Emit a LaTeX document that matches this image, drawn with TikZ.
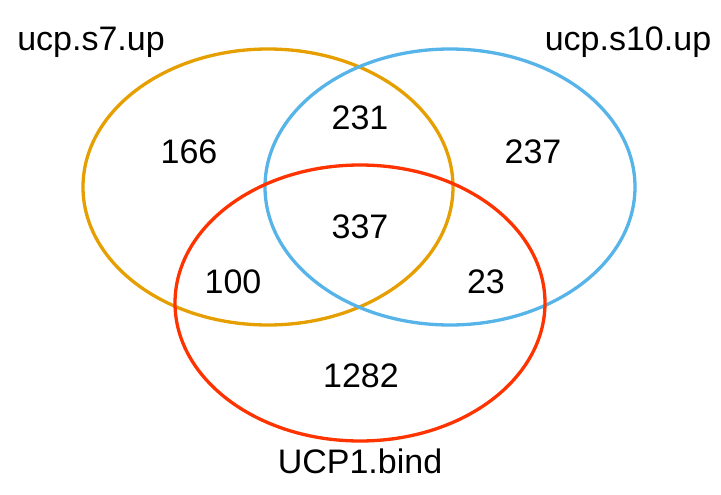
\documentclass[tikz,border=0pt]{standalone}
\usepackage{fontspec}
\setmainfont{Liberation Sans}
\definecolor{setA}{HTML}{E69F00}
\definecolor{setB}{HTML}{56B4E9}
\definecolor{setC}{HTML}{FF3300}
\tikzset{
	count/.style={anchor=base, font=\fontsize{34}{40}\selectfont},
	setname/.style={anchor=base, font=\fontsize{34}{40}\selectfont}
}
\begin{document}
\begin{tikzpicture}[x=1pt, y=-1pt, line width=3.3pt]
		\useasboundingbox (0,0) rectangle (721,495);

		% sets
		\draw[setA] (268,187) ellipse [x radius=185, y radius=138];
		\draw[setB] (450,187) ellipse [x radius=185, y radius=138];
		\draw[setC] (360,303) ellipse [x radius=185, y radius=138];

		% set names
		\node[setname] (nameA) at ( 91, 51) {ucp.s7.up};
		\node[setname] (nameB) at (628, 51) {ucp.s10.up};
		\node[setname] (nameC) at (360,473) {UCP1.bind};

		% counts
		\node[count] (onlyA) at (189,163) {166};
		\node[count] (AB)    at (360,129) {231};
		\node[count] (onlyB) at (533,163) {237};
		\node[count] (ABC)   at (360,238) {337};
		\node[count] (AC)    at (233,293) {100};
		\node[count] (BC)    at (486,293) {23};
		\node[count] (onlyC) at (361,387) {1282};

	\end{tikzpicture}
\end{document}
